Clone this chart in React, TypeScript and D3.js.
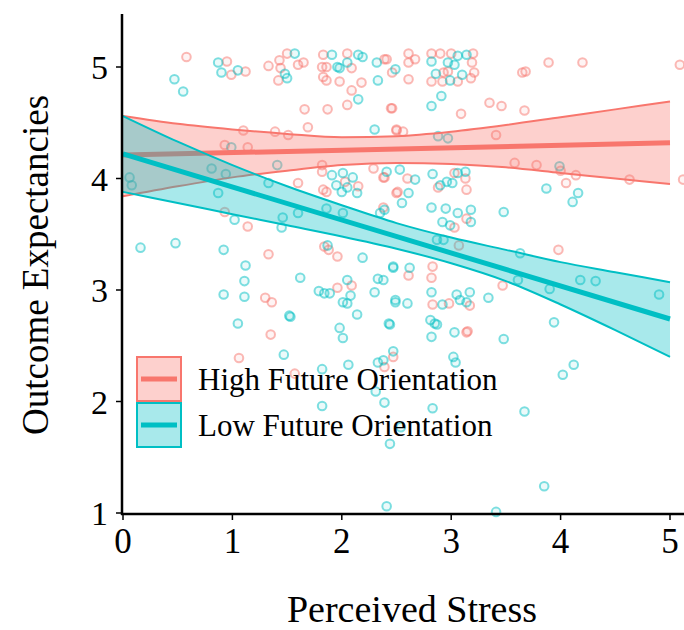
import React from "react";
import * as d3 from "d3";

// ---- data ----
const xTicks = [0, 1, 2, 3, 4, 5];
const yTicks = [1, 2, 3, 4, 5];
const seriesNames = ["High Future Orientation", "Low Future Orientation"];

const highPts: [number, number][] = [
  [0.58,5.09],[0.95,5.05],[0.99,4.93],[1.12,4.96],[1.33,5.01],[1.43,5.06],[1.50,5.12],[1.44,4.99],[1.42,4.88],[1.60,5.02],
  [1.65,5.04],[1.82,5.00],[1.83,5.11],[1.86,5.00],[2.05,5.12],[2.09,4.99],[1.83,4.91],[1.86,4.88],[1.98,4.87],[2.09,4.79],
  [2.18,4.86],[2.05,4.66],[2.39,5.07],[1.66,4.62],[1.87,4.62],[1.69,4.46],[2.46,4.63],[1.10,4.43],[1.39,4.42],[1.51,4.39],
  [0.93,4.30],[1.14,4.28],[2.50,4.43],[2.41,5.07],[2.46,4.95],[2.61,5.12],[2.67,5.07],[2.61,5.04],[2.82,5.12],[2.90,5.12],
  [3.00,5.12],[3.20,5.12],[3.19,5.04],[2.61,4.89],[2.93,4.95],[2.97,4.96],[2.82,4.87],[2.92,4.87],[3.06,4.87],[3.18,4.90],
  [3.21,4.95],[3.65,4.95],[3.68,4.96],[3.89,5.04],[4.20,5.04],[5.09,5.02],[3.09,4.58],[3.35,4.68],[3.46,4.65],[3.67,4.61],
  [3.41,4.39],[2.45,4.63],[2.50,4.44],[2.56,4.42],[0.93,3.70],[1.14,3.57],[1.30,2.93],[1.33,3.32],[1.60,3.96],[1.82,4.12],
  [1.82,4.06],[2.03,3.97],[2.15,3.93],[1.83,3.90],[1.86,3.88],[2.38,3.74],[1.84,3.39],[1.88,3.36],[1.96,3.30],[1.96,3.02],
  [2.09,3.04],[2.50,3.87],[2.29,4.09],[2.38,4.01],[2.39,4.01],[2.60,4.00],[2.88,3.92],[3.13,4.00],[3.03,4.05],[3.14,3.90],
  [2.51,3.88],[3.03,3.56],[3.14,3.64],[3.98,3.36],[2.61,3.13],[2.82,3.11],[2.83,3.21],[2.83,2.87],[2.98,2.88],[3.17,2.86],
  [3.14,2.62],[3.47,3.04],[3.07,3.40],[1.35,2.60],[3.15,2.63],[1.06,2.39],[2.39,2.31],[2.47,2.40],[1.57,2.25],[3.58,4.14],
  [3.78,4.12],[4.00,4.07],[4.14,4.03],[4.05,3.96],[4.63,3.99],[5.12,3.99],[1.36,2.89],
];

const lowPts: [number, number][] = [
  [0.47,4.89],[0.55,4.78],[0.87,5.04],[0.90,4.95],[1.05,4.97],[1.57,5.12],[1.48,4.94],[1.50,4.90],[1.91,5.11],[1.96,5.00],
  [1.98,4.99],[2.15,5.11],[2.19,5.09],[2.05,5.04],[2.33,4.88],[2.32,5.04],[2.15,4.71],[2.30,4.44],[0.99,4.28],[1.41,4.12],
  [2.49,4.98],[3.06,5.10],[3.14,5.11],[2.82,5.05],[2.97,5.04],[3.03,5.02],[2.86,4.94],[2.99,4.88],[3.10,4.93],[2.91,4.74],
  [2.82,4.65],[2.88,4.38],[2.97,4.36],[0.06,4.01],[0.08,3.94],[0.81,4.09],[0.94,4.04],[0.87,3.87],[1.02,3.63],[0.16,3.38],
  [0.48,3.42],[0.92,3.36],[1.12,3.22],[1.11,3.08],[0.92,2.96],[1.11,2.94],[1.52,2.77],[1.45,3.56],[1.46,3.65],[1.60,3.69],
  [1.33,3.96],[1.91,4.03],[2.01,4.05],[2.10,4.01],[1.95,3.94],[2.05,3.92],[2.14,3.87],[2.00,3.88],[1.86,3.73],[2.01,3.69],
  [2.35,3.69],[1.87,3.40],[2.19,3.29],[1.62,3.11],[1.79,2.99],[1.84,2.97],[1.89,2.97],[2.05,3.09],[2.01,2.89],[2.05,2.88],
  [2.08,2.95],[2.14,2.78],[2.33,3.10],[2.38,3.09],[2.30,2.98],[2.47,3.20],[2.49,2.89],[2.39,3.72],[2.41,4.06],[2.53,4.08],
  [2.67,3.99],[2.83,4.04],[2.90,3.94],[3.01,3.96],[2.96,3.97],[3.06,4.05],[3.13,4.06],[2.61,3.87],[2.55,3.78],[2.82,3.74],
  [2.95,3.73],[3.06,3.69],[3.18,3.72],[3.48,3.70],[3.87,3.91],[4.16,3.87],[4.11,3.79],[2.47,3.21],[2.62,3.20],[2.87,3.45],
  [2.93,3.45],[2.92,3.61],[2.99,3.58],[3.18,3.61],[2.82,2.98],[2.81,2.73],[2.85,2.70],[2.49,2.91],[2.60,2.88],[2.92,2.87],
  [3.08,2.91],[3.14,2.89],[3.34,2.93],[3.05,2.96],[3.17,2.98],[4.18,3.09],[4.32,3.08],[4.90,2.96],[3.94,2.71],[3.03,2.62],
  [2.82,2.58],[3.48,2.56],[2.43,2.70],[3.63,3.33],[3.61,3.09],[3.90,3.01],[3.99,4.11],[1.05,2.70],[1.53,2.76],[1.98,2.66],
  [2.01,2.57],[2.44,2.69],[2.87,2.69],[1.47,2.42],[1.82,2.29],[2.06,2.33],[2.33,2.35],[2.38,2.37],[2.47,2.45],[3.02,2.40],
  [3.04,2.35],[4.12,2.33],[4.02,2.24],[2.31,2.09],[1.82,1.96],[2.39,1.99],[2.83,1.94],[3.67,1.91],[2.44,1.62],[2.54,1.77],
  [3.85,1.24],[2.41,1.06],[3.41,1.01],
];

// fitted lines (endpoints at x = 0 and x = 5)
const fitX = [0, 5];
const highFit = [4.21, 4.32];
const lowFit = [4.22, 2.74];

// confidence bands on a grid
const bandX = [0, 0.5, 1, 1.5, 2, 2.5, 3, 3.5, 4, 4.5, 5];
const highUpper = [4.56, 4.49, 4.44, 4.40, 4.37, 4.38, 4.42, 4.48, 4.55, 4.62, 4.69];
const highLower = [3.84, 3.93, 4.01, 4.07, 4.12, 4.14, 4.13, 4.10, 4.05, 4.00, 3.95];
const lowUpper = [4.56, 4.33, 4.12, 3.93, 3.76, 3.60, 3.47, 3.36, 3.25, 3.16, 3.07];
const lowLower = [3.88, 3.78, 3.68, 3.58, 3.48, 3.37, 3.24, 3.08, 2.87, 2.64, 2.40];

const RED = "#F8766D";
const TEAL = "#00BFC4";
const FONT = "'Liberation Serif', 'Times New Roman', serif";

export default function App() {
  const W = 684, H = 630;
  const x = d3.scaleLinear().domain([0, 5]).range([123, 670]);
  const y = d3.scaleLinear().domain([1, 5]).range([513, 67]);
  const axisX = 122, axisY = 514;

  const area = (up: number[], lo: number[]) =>
    d3.area<number>()
      .x((_, i) => x(bandX[i]))
      .y0((_, i) => y(lo[i]))
      .y1((_, i) => y(up[i]))
      .curve(d3.curveMonotoneX)(bandX)!;
  const edge = (vals: number[]) =>
    d3.line<number>().x((_, i) => x(bandX[i])).y((v) => y(v)).curve(d3.curveMonotoneX)(vals)!;
  const fit = (vals: number[]) =>
    d3.line<number>().x((_, i) => x(fitX[i])).y((v) => y(v))(vals)!;

  const groups = [
    { color: RED, up: highUpper, lo: highLower, f: highFit },
    { color: TEAL, up: lowUpper, lo: lowLower, f: lowFit },
  ];

  return (
    <svg width={W} height={H} style={{ position: "absolute", left: 0, top: 0, background: "#fff" }}
      fontFamily={FONT}>
      {/* points */}
      <g strokeWidth={2}>
        {highPts.map((p, i) => (
          <circle key={"h" + i} cx={x(p[0])} cy={y(p[1])} r={4.3} stroke={RED} strokeOpacity={0.5}
            fill={RED} fillOpacity={0.08} />
        ))}
        {lowPts.map((p, i) => (
          <circle key={"l" + i} cx={x(p[0])} cy={y(p[1])} r={4.3} stroke={TEAL} strokeOpacity={0.5}
            fill={TEAL} fillOpacity={0.08} />
        ))}
      </g>
      {/* bands and fits */}
      {groups.map((g, i) => (
        <g key={i}>
          <path d={area(g.up, g.lo)} fill={g.color} fillOpacity={0.34} />
          <path d={edge(g.up)} fill="none" stroke={g.color} strokeWidth={2} />
          <path d={edge(g.lo)} fill="none" stroke={g.color} strokeWidth={2} />
          <path d={fit(g.f)} fill="none" stroke={g.color} strokeWidth={5} />
        </g>
      ))}
      {/* axes */}
      <line x1={axisX} x2={axisX} y1={14} y2={axisY + 1} stroke="#000" strokeWidth={2.5} />
      <line x1={axisX - 1} x2={W} y1={axisY} y2={axisY} stroke="#000" strokeWidth={2.5} />
      {yTicks.map((t) => (
        <g key={"y" + t}>
          <line x1={axisX - 6} x2={axisX} y1={y(t)} y2={y(t)} stroke="#000" strokeWidth={1.5} />
          <text x={108} y={y(t) + 12} textAnchor="end" fontSize={34} fill="#000">{t}</text>
        </g>
      ))}
      {xTicks.map((t) => (
        <g key={"x" + t}>
          <line x1={x(t)} x2={x(t)} y1={axisY} y2={axisY + 6} stroke="#000" strokeWidth={1.5} />
          <text x={x(t)} y={553} textAnchor="middle" fontSize={35} fill="#000">{t}</text>
        </g>
      ))}
      {/* axis titles */}
      <text x={412} y={622} textAnchor="middle" fontSize={38} fill="#000">Perceived Stress</text>
      <text transform="translate(48,265) rotate(-90)" textAnchor="middle" fontSize={37} fill="#000">
        Outcome Expectancies
      </text>
      {/* legend */}
      {seriesNames.map((name, i) => {
        const c = i === 0 ? RED : TEAL;
        const top = 357 + i * 46;
        return (
          <g key={name}>
            <rect x={137} y={top} width={44} height={44} fill={c} fillOpacity={0.34} stroke={c} strokeWidth={2} />
            <line x1={141} x2={177} y1={top + 22} y2={top + 22} stroke={c} strokeWidth={5} />
            <text x={198} y={top + 33} fontSize={31} fill="#000">{name}</text>
          </g>
        );
      })}
    </svg>
  );
}
